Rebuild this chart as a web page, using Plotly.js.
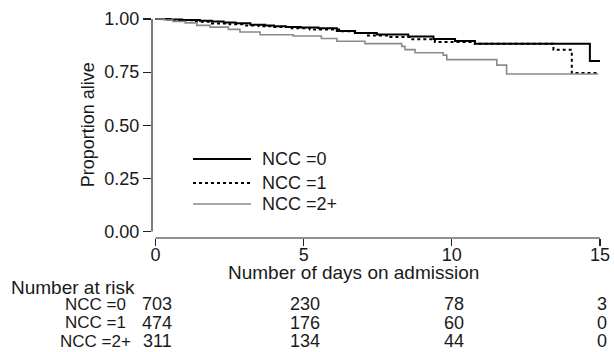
<!DOCTYPE html>
<html>
<head>
<meta charset="utf-8">
<script src="https://cdn.plot.ly/plotly-3.0.1.min.js"></script>
<style>html,body{margin:0;padding:0;background:#fff;}#chart{width:614px;height:352px;}</style>
</head>
<body>
<div id="chart"></div>
<script>
// ---- data ----
var groupNames = ["NCC =0", "NCC =1", "NCC =2+"];
var days0 = [0, 0.4, 0.9, 1.5, 1.9, 2.3, 2.7, 3.2, 3.7, 4.0, 4.4, 4.9, 5.5, 6.12, 6.73, 7.47, 8.53, 9.38, 10.11, 10.78, 14.66, 15.0];
var surv0 = [1.0, 0.998, 0.995, 0.992, 0.988, 0.984, 0.980, 0.973, 0.969, 0.966, 0.962, 0.960, 0.957, 0.944, 0.934, 0.927, 0.918, 0.906, 0.897, 0.884, 0.802, 0.802];
var days1 = [0, 0.5, 1.27, 1.84, 2.5, 2.95, 3.5, 3.97, 4.6, 5.21, 6.23, 6.8, 7.13, 7.81, 8.59, 9.43, 10.78, 13.43, 14.05, 14.94];
var surv1 = [1.0, 0.994, 0.987, 0.979, 0.975, 0.970, 0.966, 0.962, 0.957, 0.951, 0.942, 0.934, 0.922, 0.915, 0.905, 0.892, 0.883, 0.855, 0.746, 0.746];
var days2 = [0, 0.3, 0.59, 1.0, 1.39, 1.84, 2.46, 2.85, 3.53, 4.65, 5.6, 6.12, 7.07, 8.31, 8.42, 8.76, 9.71, 9.83, 11.52, 11.85, 14.94];
var surv2 = [1.0, 0.995, 0.988, 0.982, 0.970, 0.962, 0.951, 0.939, 0.926, 0.920, 0.908, 0.895, 0.884, 0.871, 0.856, 0.841, 0.830, 0.809, 0.783, 0.741, 0.741];
var xTicks = [0, 5, 10, 15];
var yTicks = [0, 0.25, 0.5, 0.75, 1];
var yTickLabels = ["0.00", "0.25", "0.50", "0.75", "1.00"];
var riskTimes = [0, 5, 10, 15];
var risk0 = [703, 230, 78, 3];
var risk1 = [474, 176, 60, 0];
var risk2 = [311, 134, 44, 0];

// ---- styles ----
var FONT = "Liberation Sans, Arial, Helvetica, sans-serif";
var TXT = "#1a1a1a";
var FS = 18;
var lineStyles = [
  {color: "#000000", width: 2, dash: "solid"},
  {color: "#000000", width: 2, dash: "dot"},
  {color: "#8a8a8a", width: 1.6, dash: "solid"}
];

var series = [[days0, surv0], [days1, surv1], [days2, surv2]];
var traces = series.map(function (s, i) {
  return {x: s[0], y: s[1], type: "scatter", mode: "lines", name: groupNames[i],
          line: {shape: "hv", color: lineStyles[i].color, width: lineStyles[i].width, dash: lineStyles[i].dash},
          hoverinfo: "skip", showlegend: false};
});

// plot area geometry (pixels)
var L = 152, R = 604, T = 15, B = 238;
var W = 614, H = 352;
function px2paperX(px) { return (px - L) / (R - L); }
function px2paperY(py) { return (B - py) / (B - T); }

var shapes = [
  {type: "line", xref: "paper", yref: "y", x0: 0, x1: 0, y0: 0, y1: 1, line: {color: "#222", width: 1.2}},
  {type: "line", xref: "x", yref: "paper", x0: 0, x1: 15, y0: 0, y1: 0, line: {color: "#222", width: 1.2}}
];
var legendY = [159, 183, 204];
var annotations = [];
groupNames.forEach(function (g, i) {
  shapes.push({type: "line", xref: "paper", yref: "paper",
               x0: px2paperX(193), x1: px2paperX(251), y0: px2paperY(legendY[i]), y1: px2paperY(legendY[i]),
               line: {color: lineStyles[i].color, width: lineStyles[i].width, dash: lineStyles[i].dash}});
  annotations.push({xref: "paper", yref: "paper", x: px2paperX(261), y: px2paperY(legendY[i]),
                    xanchor: "left", yanchor: "middle", text: g, showarrow: false, borderpad: 0,
                    font: {family: FONT, size: FS, color: TXT}});
});

// axis titles
annotations.push({xref: "paper", yref: "y", x: px2paperX(88), y: 0.5, textangle: -90,
                  xanchor: "center", yanchor: "middle", text: "Proportion alive", showarrow: false,
                  font: {family: FONT, size: FS, color: TXT}});
annotations.push({xref: "paper", yref: "paper", x: px2paperX(353.5), y: px2paperY(272),
                  xanchor: "center", yanchor: "middle", text: "Number of days on admission", showarrow: false,
                  borderpad: 0, font: {family: FONT, size: 19, color: TXT}});

// number at risk table
annotations.push({xref: "paper", yref: "paper", x: px2paperX(10), y: px2paperY(287),
                  xanchor: "left", yanchor: "middle", text: "Number at risk", showarrow: false, borderpad: 0,
                  font: {family: FONT, size: 19, color: TXT}});
var riskRows = [risk0, risk1, risk2];
var rowY = [304, 322.5, 341];
riskRows.forEach(function (row, i) {
  annotations.push({xref: "paper", yref: "paper", x: px2paperX(95), y: px2paperY(rowY[i]),
                    xanchor: "center", yanchor: "middle", text: groupNames[i], showarrow: false, borderpad: 0,
                    font: {family: FONT, size: 17, color: TXT}});
  row.forEach(function (v, j) {
    annotations.push({xref: "x", yref: "paper", x: riskTimes[j] + 0.06, y: px2paperY(rowY[i]),
                      xanchor: "center", yanchor: "middle", text: String(v), showarrow: false, borderpad: 0,
                      font: {family: FONT, size: FS, color: TXT}});
  });
});

var xPer = 29.63, x0px = 155.5;
var yPer = 212.5, y0px = 231.5;
var layout = {
  width: W, height: H,
  margin: {l: L, r: W - R, t: T, b: H - B, pad: 0},
  paper_bgcolor: "#ffffff", plot_bgcolor: "#ffffff",
  showlegend: false,
  font: {family: FONT, size: FS, color: TXT},
  xaxis: {range: [(L - x0px) / xPer, (R - x0px) / xPer], tickvals: xTicks, ticktext: xTicks.map(String),
          ticks: "outside", ticklen: 7, tickwidth: 1.2, tickcolor: "#222", ticklabelstandoff: -7,
          showline: false, showgrid: false, zeroline: false,
          tickfont: {family: FONT, size: FS, color: TXT}},
  yaxis: {range: [(y0px - B) / yPer, (y0px - T) / yPer], tickvals: yTicks, ticktext: yTickLabels,
          ticks: "outside", ticklen: 8, tickwidth: 1.2, tickcolor: "#222",
          showline: false, showgrid: false, zeroline: false,
          tickfont: {family: FONT, size: FS, color: TXT}},
  shapes: shapes,
  annotations: annotations
};

Plotly.newPlot("chart", traces, layout, {staticPlot: true, displayModeBar: false});
</script>
</body>
</html>
